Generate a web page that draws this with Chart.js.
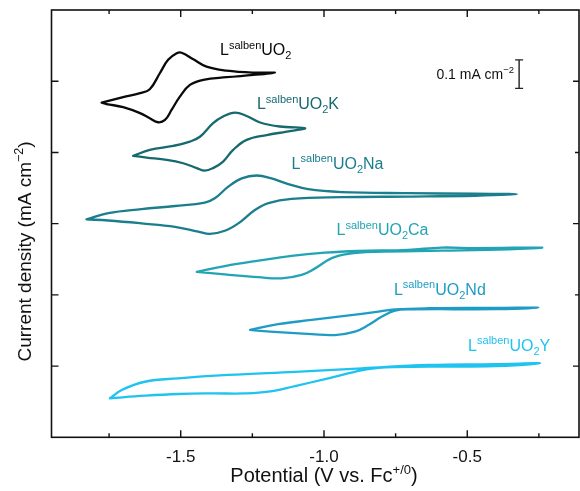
<!DOCTYPE html>
<html><head><meta charset="utf-8">
<script src="https://cdn.jsdelivr.net/npm/chart.js@4/dist/chart.umd.min.js"></script>
<style>html,body{margin:0;padding:0;background:#fff}</style>
</head><body>
<canvas id="c" width="580" height="491"></canvas>
<script>
// ---- data (potential in V vs Fc+/0, current density with vertical offsets, mA cm^-2) ----
const seriesSuffix = ['', 'K', 'Na', 'Ca', 'Nd', 'Y'];

const potUO2 = [-1.776,-1.701,-1.642,-1.608,-1.573,-1.544,-1.514,-1.497,-1.456,-1.410,-1.340,-1.247,-1.171,
                -1.247,-1.340,-1.421,-1.468,-1.503,-1.532,-1.555,-1.579,-1.608,-1.642,-1.701,-1.759,-1.776];
const curUO2 = [1.175,1.194,1.208,1.222,1.278,1.325,1.348,1.350,1.327,1.301,1.287,1.280,1.280,
                1.272,1.264,1.255,1.237,1.196,1.149,1.114,1.106,1.120,1.138,1.159,1.170,1.175];

const potK = [-1.666,-1.608,-1.526,-1.468,-1.433,-1.387,-1.352,-1.311,-1.270,-1.223,-1.154,-1.066,
              -1.130,-1.200,-1.270,-1.317,-1.352,-1.387,-1.416,-1.444,-1.491,-1.549,-1.619,-1.666];
const curK = [0.988,1.009,1.023,1.038,1.055,1.103,1.126,1.140,1.128,1.105,1.091,1.085,
              1.073,1.061,1.044,1.009,0.968,0.945,0.936,0.945,0.962,0.974,0.982,0.988];

const potNa = [-1.829,-1.753,-1.637,-1.520,-1.416,-1.381,-1.334,-1.287,-1.235,-1.183,-1.125,-1.055,-0.938,-0.706,-0.473,-0.327,
               -0.473,-0.706,-0.938,-1.113,-1.194,-1.241,-1.299,-1.346,-1.398,-1.439,-1.520,-1.637,-1.753,-1.829];
const curNa = [0.765,0.787,0.801,0.812,0.824,0.839,0.880,0.909,0.919,0.909,0.889,0.871,0.861,0.857,0.855,0.853,
               0.848,0.845,0.843,0.837,0.822,0.798,0.751,0.725,0.714,0.722,0.739,0.751,0.761,0.765];

const potCa = [-1.444,-1.346,-1.229,-1.113,-0.997,-0.880,-0.706,-0.589,-0.473,-0.240,
               -0.356,-0.589,-0.822,-0.915,-0.973,-1.031,-1.078,-1.148,-1.229,-1.346,-1.444];
const curCa = [0.581,0.601,0.620,0.637,0.648,0.654,0.658,0.666,0.664,0.666,
               0.660,0.655,0.651,0.644,0.629,0.593,0.570,0.558,0.562,0.572,0.581];

const potNd = [-1.258,-1.160,-1.043,-0.927,-0.810,-0.752,-0.636,-0.403,-0.252,
               -0.403,-0.694,-0.752,-0.799,-0.845,-0.892,-0.962,-1.043,-1.160,-1.258];
const curNd = [0.377,0.397,0.412,0.426,0.441,0.449,0.453,0.454,0.455,
               0.450,0.449,0.445,0.423,0.394,0.371,0.359,0.362,0.369,0.377];

const potY = [-1.747,-1.706,-1.625,-1.509,-1.334,-1.101,-0.868,-0.636,-0.403,-0.246,
              -0.403,-0.636,-0.810,-0.892,-0.985,-1.101,-1.194,-1.276,-1.392,-1.509,-1.625,-1.747];
const curY = [0.137,0.166,0.195,0.207,0.219,0.230,0.242,0.254,0.257,0.260,
              0.250,0.248,0.244,0.230,0.207,0.180,0.160,0.154,0.154,0.152,0.146,0.137];

const xMajorTicks = [-1.5, -1.0, -0.5];
const xTickLabels = ['-1.5', '-1.0', '-0.5'];
const xMinorTicks = [-1.75, -1.25, -0.75, -0.25];
const yMajorTicks = [0.25, 0.75, 1.25];
const yMinorTicks = [0.5, 1.0];
const scaleBarValue = 0.1;

// ---- styling / placement ----
const colors = ['#0a0a0a', '#166a6e', '#1a7e8c', '#22a4b4', '#1f9cc4', '#1fc3ef'];
const labelAnchors = [[-1.363,1.342],[-1.234,1.151],[-1.113,0.942],[-0.956,0.710],[-0.756,0.500],[-0.497,0.303]];
const FONT = '"Liberation Sans", Arial, Helvetica, sans-serif';

function pts(xs, ys){ return xs.map((x,i)=>({x:x, y:ys[i]})); }
const allSeries = [[potUO2,curUO2],[potK,curK],[potNa,curNa],[potCa,curCa],[potNd,curNd],[potY,curY]];

function richWidth(ctx, parts){
  let w = 0;
  for (const p of parts){ ctx.font = p.s + 'px ' + FONT; w += ctx.measureText(p.t).width; }
  return w;
}
function drawRich(ctx, parts, x, y, align){
  const w = richWidth(ctx, parts);
  let cx = align === 'center' ? x - w/2 : (align === 'right' ? x - w : x);
  ctx.textAlign = 'left';
  ctx.textBaseline = 'alphabetic';
  for (const p of parts){
    ctx.font = p.s + 'px ' + FONT;
    ctx.fillText(p.t, cx, y + (p.dy || 0));
    cx += ctx.measureText(p.t).width;
  }
}
function seriesLabel(suffix){
  const parts = [{t:'L', s:16},{t:'salben', s:11, dy:-6.5},{t:'UO', s:16},{t:'2', s:11, dy:4}];
  if (suffix) parts.push({t:suffix, s:16});
  return parts;
}

const framePlugin = {
  id: 'frame',
  afterDraw(chart){
    const ctx = chart.ctx, a = chart.chartArea;
    const xs = chart.scales.x, ys = chart.scales.y;
    ctx.save();
    ctx.strokeStyle = '#111';
    ctx.lineWidth = 1.6;
    ctx.strokeRect(a.left, a.top, a.right - a.left, a.bottom - a.top);
    ctx.lineWidth = 1.4;
    ctx.beginPath();
    const tickX = (v, len) => {
      const px = xs.getPixelForValue(v);
      ctx.moveTo(px, a.bottom); ctx.lineTo(px, a.bottom - len);
      ctx.moveTo(px, a.top); ctx.lineTo(px, a.top + len);
    };
    xMajorTicks.forEach(v => tickX(v, 7));
    xMinorTicks.forEach(v => tickX(v, 4));
    const tickY = (v, lenL, lenR) => {
      const py = ys.getPixelForValue(v);
      ctx.moveTo(a.left, py); ctx.lineTo(a.left + lenL, py);
      ctx.moveTo(a.right, py); ctx.lineTo(a.right - lenR, py);
    };
    yMajorTicks.forEach(v => tickY(v, 7, 6));
    yMinorTicks.forEach(v => tickY(v, 7, 4));
    ctx.stroke();

    // tick labels
    ctx.fillStyle = '#111';
    ctx.font = '17px ' + FONT;
    ctx.textAlign = 'center';
    ctx.textBaseline = 'alphabetic';
    xMajorTicks.forEach((v,i) => ctx.fillText(xTickLabels[i], xs.getPixelForValue(v), a.bottom + 25));

    // x title
    drawRich(ctx, [{t:'Potential (V vs. Fc', s:20},{t:'+/0', s:13, dy:-8},{t:')', s:20}],
             xs.getPixelForValue(-1.0), a.bottom + 45, 'center');
    // y title
    ctx.save();
    ctx.translate(31, 251.5);
    ctx.rotate(-Math.PI/2);
    drawRich(ctx, [{t:'Current density (mA cm', s:19},{t:'\u22122', s:12.5, dy:-8},{t:')', s:19}], 0, 0, 'center');
    ctx.restore();

    // series labels
    labelAnchors.forEach((p,i) => {
      ctx.fillStyle = colors[i];
      drawRich(ctx, seriesLabel(seriesSuffix[i]), xs.getPixelForValue(p[0]), ys.getPixelForValue(p[1]), 'left');
    });

    // scale bar
    const bx = xs.getPixelForValue(-0.319);
    const b0 = ys.getPixelForValue(1.225), b1 = ys.getPixelForValue(1.225 + scaleBarValue);
    ctx.strokeStyle = '#222'; ctx.lineWidth = 1.4;
    ctx.beginPath();
    ctx.moveTo(bx, b0); ctx.lineTo(bx, b1);
    ctx.moveTo(bx - 4, b0); ctx.lineTo(bx + 4, b0);
    ctx.moveTo(bx - 4, b1); ctx.lineTo(bx + 4, b1);
    ctx.stroke();
    ctx.fillStyle = '#111';
    drawRich(ctx, [{t:'0.1 mA cm', s:14},{t:'\u22122', s:9.5, dy:-6}], bx - 5, ys.getPixelForValue(1.257), 'right');
    ctx.restore();
  }
};

new Chart(document.getElementById('c'), {
  type: 'scatter',
  data: {
    datasets: allSeries.map((s,i) => ({
      label: 'L' + 'salben' + 'UO2' + seriesSuffix[i],
      data: pts(s[0], s[1]),
      showLine: true,
      borderColor: colors[i],
      borderWidth: 2.3,
      borderJoinStyle: 'round',
      borderCapStyle: 'round',
      pointRadius: 0,
      tension: 0.4,
      fill: false
    }))
  },
  options: {
    responsive: false,
    animation: false,
    events: [],
    layout: { padding: { left: 51.5, right: 1, top: 10, bottom: 53.7 } },
    plugins: { legend: { display: false }, tooltip: { enabled: false } },
    scales: {
      x: { type: 'linear', min: -1.951, max: -0.110, display: false },
      y: { type: 'linear', min: 0, max: 1.5, display: false }
    }
  },
  plugins: [framePlugin]
});
</script>
</body></html>
